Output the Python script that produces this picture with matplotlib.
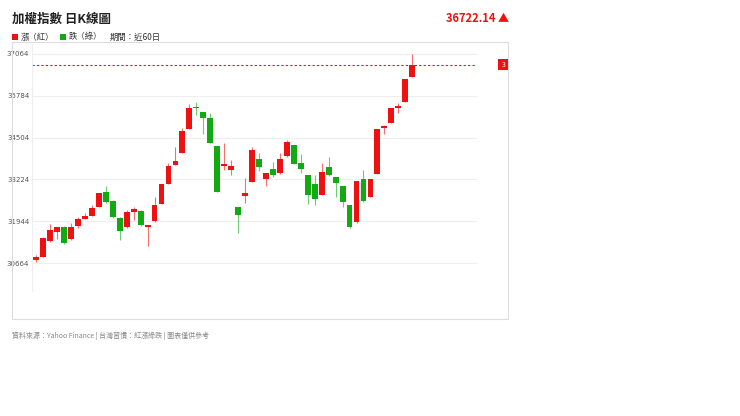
import matplotlib
matplotlib.use("Agg")
import matplotlib.pyplot as plt
from matplotlib.patches import Rectangle

plt.rcParams['font.family'] = ['Noto Sans CJK TC', 'DejaVu Sans']

opens = [30754, 30857, 31337, 31602, 31775, 31387, 31806, 32020, 32102, 32388,
         32847, 32572, 32031, 31755, 32214, 32265, 31755, 31959, 32460, 33092,
         33664, 34022, 34757, 35451, 35298, 35114, 34246, 33633, 33511, 32388,
         32715, 33133, 33838, 33225, 33552, 33409, 33940, 34287, 33736, 33358,
         33082, 32735, 33593, 33286, 33021, 32439, 31918, 33225, 32694, 33389,
         34787, 34961, 35421, 35584, 36370]
closes = [30836, 31439, 31663, 31775, 31265, 31775, 31999, 32102, 32347, 32817,
          32541, 32061, 31643, 32225, 32316, 31816, 31816, 32429, 33082, 33633,
          33797, 34716, 35421, 35421, 35094, 34328, 32847, 33695, 33633, 32133,
          32796, 34124, 33593, 33409, 33358, 33848, 34359, 33695, 33542, 32735,
          32613, 33450, 33358, 33123, 32531, 31755, 33184, 32572, 33245, 34757,
          34859, 35421, 35472, 36298, 36722.14]
highs = [30908, 31469, 31847, 31775, 31796, 31898, 32081, 32204, 32439, 32817,
         33021, 32592, 32081, 32286, 32388, 32286, 31826, 32694, 33082, 33715,
         34226, 34787, 35533, 35584, 35298, 35247, 34246, 34328, 33818, 32388,
         33256, 34205, 34022, 33409, 33766, 34022, 34430, 34287, 34001, 33358,
         33358, 33715, 33899, 33286, 33021, 32439, 33184, 33511, 33245, 34757,
         34889, 35421, 35574, 36298, 37064]
lows = [30704, 30857, 31316, 31387, 31245, 31367, 31724, 32020, 32102, 32388,
        32490, 32031, 31367, 31724, 31980, 31796, 31183, 31929, 32460, 33092,
        33664, 34022, 34757, 35196, 34614, 34328, 32847, 33511, 33358, 31571,
        32490, 33133, 33491, 33021, 33286, 33389, 33920, 33695, 33409, 32470,
        32439, 32735, 33327, 32694, 32368, 31724, 31898, 32541, 32674, 33389,
        34614, 34961, 35267, 35584, 36370]
yticks = [30664, 31944, 33224, 34504, 35784, 37064]
last_price = 36722.14

W, H = 740, 416
fig = plt.figure(figsize=(W / 100, H / 100), dpi=100)
fig.patch.set_facecolor('white')

# panel frame
fig.patches.append(Rectangle((12 / W, 1 - 319 / H), 496 / W, 277 / H,
                             transform=fig.transFigure, fill=False,
                             edgecolor='#dddddd', lw=0.8))
# right price tag (clipped in original)
fig.patches.append(Rectangle((498 / W, 1 - 70 / H), 10 / W, 11 / H,
                             transform=fig.transFigure, facecolor='#ee1111',
                             edgecolor='none'))
fig.text(504 / W, 1 - 65 / H, '3', color='white', fontsize=5, ha='center', va='center')

ax = fig.add_axes([32 / W, 1 - 291 / H, 445 / W, 247 / H])
red, green = '#ee1111', '#11aa11'
for i in range(len(opens)):
    o, c = opens[i], closes[i]
    col = red if c >= o else green
    ax.vlines(i, lows[i], highs[i], color=col, lw=0.8, alpha=0.6)
    lo, hi = min(o, c), max(o, c)
    ax.add_patch(Rectangle((i - 0.42, lo), 0.84, max(hi - lo, 25), facecolor=col,
                           edgecolor='none'))
ax.axhline(last_price, color=red, ls=(0, (2, 2)), lw=0.8)

ax.set_xlim(-0.6, 63.3)
ax.set_ylim(29807, 37370)
ax.set_yticks(yticks)
ax.set_yticklabels([str(v) for v in yticks], fontsize=5, color='#555555',
                   family='DejaVu Sans')
for v in yticks + [29807]:
    ax.axhline(v, color='#eeeeee', lw=0.8, zorder=0)
ax.set_xticks([])
ax.tick_params(axis='y', length=0, pad=2)
for s in ['top', 'right', 'bottom']:
    ax.spines[s].set_visible(False)
ax.spines['left'].set_color('#eeeeee')

fig.text(12 / W, 1 - 19 / H, '加權指數 日K線圖', fontsize=9, fontweight='bold',
         va='center', color='#222222')
fig.text(509 / W, 1 - 19 / H, f'{last_price:.2f} ▲', fontsize=8, fontweight='bold',
         va='center', ha='right', color=red)

fig.patches.append(Rectangle((12 / W, 1 - 40 / H), 6 / W, 6 / H,
                             transform=fig.transFigure, facecolor=red))
fig.text(21 / W, 1 - 37 / H, '漲（紅）', fontsize=6, va='center', color='#333333')
fig.patches.append(Rectangle((60 / W, 1 - 40 / H), 6 / W, 6 / H,
                             transform=fig.transFigure, facecolor=green))
fig.text(69 / W, 1 - 37 / H, '跌（綠）', fontsize=6, va='center', color='#333333')
fig.text(110 / W, 1 - 37 / H, '期間：近60日', fontsize=6, va='center', color='#333333')

fig.text(12 / W, 1 - 336 / H, '資料來源：Yahoo Finance | 台灣習慣：紅漲綠跌 | 圖表僅供參考',
         fontsize=5, va='center', color='#888888')

fig.savefig('out.png', dpi=100)
